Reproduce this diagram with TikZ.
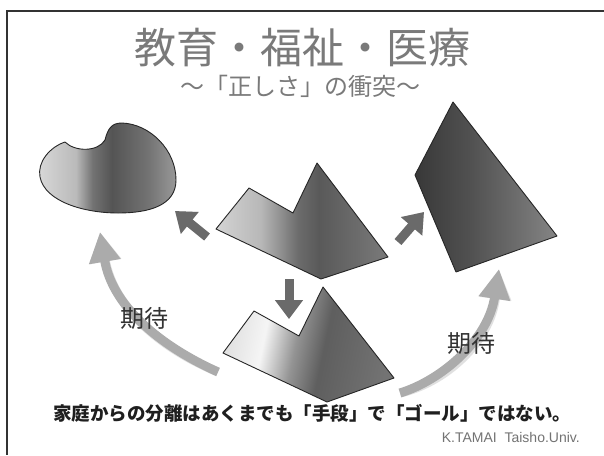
\documentclass[tikz,border=0pt]{standalone}
\usepackage{fontspec}
\setmainfont{Liberation Sans}
\newfontfamily\jp{Noto Sans CJK JP}
\usetikzlibrary{arrows.meta}
\definecolor{framec}{HTML}{333333}
\definecolor{titlec}{HTML}{7A7A7A}
\definecolor{darkarr}{HTML}{6A6A6A}
\definecolor{lightarr}{HTML}{ABABAB}
\definecolor{shadowc}{HTML}{BBBBBB}
\pgfdeclarehorizontalshading{blobsh}{100bp}{color(0bp)=(black!15); color(25bp)=(black!15); color(39bp)=(black!27); color(45bp)=(black!55); color(52bp)=(black!67); color(65bp)=(black!55); color(75bp)=(black!40); color(100bp)=(black!40)}
\pgfdeclarehorizontalshading{upsh}{100bp}{color(0bp)=(black!17); color(25bp)=(black!17); color(38bp)=(black!28); color(49bp)=(black!58); color(55bp)=(black!65); color(75bp)=(black!52); color(100bp)=(black!52)}
\pgfdeclarehorizontalshading{lowsh}{100bp}{color(0bp)=(black!12); color(25bp)=(black!12); color(36bp)=(black!4); color(46bp)=(black!42); color(55bp)=(black!63); color(75bp)=(black!55); color(100bp)=(black!55)}
\pgfdeclarehorizontalshading{rightsh}{100bp}{color(0bp)=(black!78); color(25bp)=(black!78); color(45bp)=(black!68); color(75bp)=(black!48); color(100bp)=(black!48)}
\tikzset{
  shapeline/.style={draw=black!85, line width=0.9pt, line join=round},
  darkblock/.style={line width=9pt, draw=darkarr, -{Triangle[width=27pt,length=19pt]}},
  darkshadow/.style={darkblock, draw=shadowc, opacity=0.5},
  lightblock/.style={line width=9pt, draw=lightarr, -{Triangle[width=30pt,length=30pt]}},
  lightshadow/.style={lightblock, draw=shadowc, opacity=0.45},
  kitai/.style={font=\jp\fontsize{24}{24}\selectfont, text=black!80, inner sep=0pt},
}
\begin{document}
\begin{tikzpicture}[x=1pt,y=-1pt]
\useasboundingbox (0,0) rectangle (604,455);
\fill[white] (0,0) rectangle (604,455);
% frame
\draw[framec, line width=2pt] (604,10.5) -- (6.5,10.5) -- (6.5,455);

% title
\node[font=\jp\fontsize{42}{42}\selectfont, text=titlec, inner sep=0pt] (title) at (302,48) {教育・福祉・医療};
\node[font=\jp\fontsize{24}{24}\selectfont, text=titlec, inner sep=0pt] (sub) at (300,86) {～「正しさ」の衝突～};

% curved light arrows
\coordinate (ls) at (218,372);
\coordinate (lt) at (100,232);
\coordinate (rs) at (400,393);
\coordinate (rt) at (499,269);
\begin{scope}[shift={(2,3)}]
\draw[lightshadow] (ls) .. controls (158,345) and (112,305) .. (lt);
\draw[lightshadow] (rs) .. controls (442,380) and (488,340) .. (rt);
\end{scope}
\draw[lightblock] (ls) .. controls (158,345) and (112,305) .. (lt);
\draw[lightblock] (rs) .. controls (442,380) and (488,340) .. (rt);

% blob
\path[shapeline, shading=blobsh]
  (65,142) .. controls (75,152) and (98,152) .. (105,140)
  .. controls (108,128) and (112,123) .. (122,123)
  .. controls (150,124) and (176,150) .. (176,180)
  .. controls (176,205) and (150,213) .. (118,213)
  .. controls (85,213) and (45,202) .. (40,177)
  .. controls (37,162) and (50,147) .. (65,142) -- cycle;

% upper centre shape
\path[shapeline, shading=upsh]
  (216,229) -- (249,188) -- (293,213) -- (317,163) -- (388,257) -- (321,279) -- cycle;

% lower centre shape
\path[shapeline, shading=lowsh, shading angle=-12]
  (223,353) -- (254,311) -- (299,336) -- (323,287) -- (394,378) -- (327,402) -- cycle;

% right shape
\path[shapeline, shading=rightsh]
  (453,102) -- (415,175) -- (456,272) -- (557,236) -- cycle;

% dark arrows
\coordinate (a1s) at (207,237);
\coordinate (a1t) at (175,211);
\coordinate (a2s) at (398,242);
\coordinate (a2t) at (424,212);
\coordinate (a3s) at (289,279);
\coordinate (a3t) at (289,319);
\begin{scope}[shift={(1.5,2.5)}]
\draw[darkshadow] (a1s) -- (a1t);
\draw[darkshadow] (a2s) -- (a2t);
\draw[darkshadow] (a3s) -- (a3t);
\end{scope}
\draw[darkblock] (a1s) -- (a1t);
\draw[darkblock] (a2s) -- (a2t);
\draw[darkblock] (a3s) -- (a3t);

% labels
\node[kitai] (k1) at (144,318) {期待};
\node[kitai] (k2) at (471,343) {期待};

\node[font=\jp\bfseries\fontsize{18.5}{18.5}\selectfont, text=black!88, inner sep=0pt] (msg) at (312,413) {家庭からの分離はあくまでも「手段」で「ゴール」ではない。};
\node[font=\fontsize{14}{14}\selectfont, text=black!55, anchor=east, inner sep=0pt] (sign) at (580,437) {K.TAMAI\ \ Taisho.Univ.};
\end{tikzpicture}
\end{document}
